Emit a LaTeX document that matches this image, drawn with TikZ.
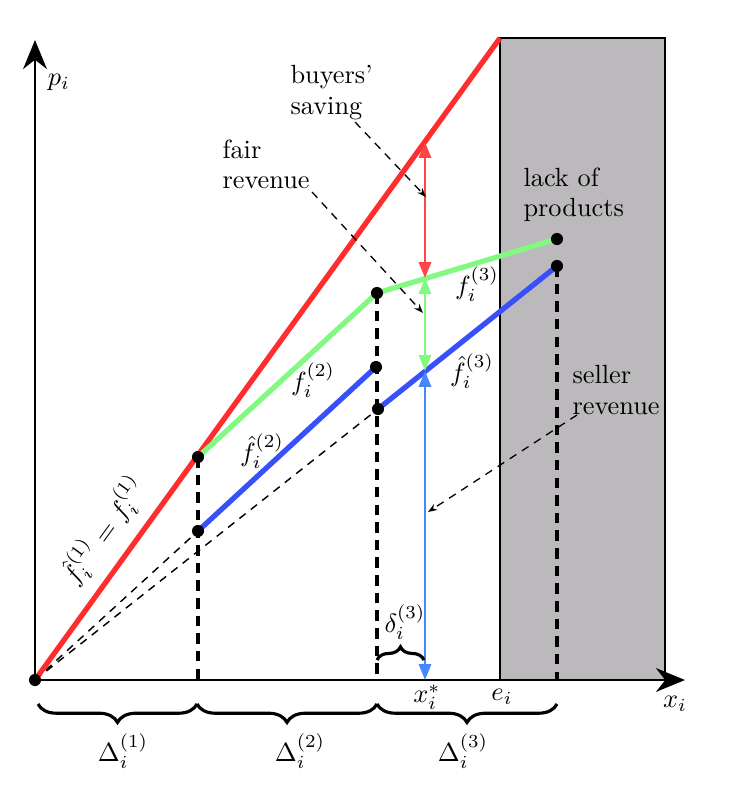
\documentclass[tikz,border=0pt]{standalone}
\usetikzlibrary{arrows.meta,decorations.pathreplacing}
\definecolor{redl}{RGB}{255,45,45}
\definecolor{reda}{RGB}{255,70,70}
\definecolor{greenl}{RGB}{130,250,130}
\definecolor{bluel}{RGB}{55,80,250}
\definecolor{bluea}{RGB}{70,135,255}
\definecolor{shade}{RGB}{187,185,187}
\begin{document}
\begin{tikzpicture}[x=0.38pt,y=-0.38pt,
  axis/.style={line width=1.1pt,-{Stealth[length=11pt,width=9pt,inset=3.5pt]}},
  fline/.style={line width=2pt},
  vdash/.style={line width=1.15pt,dash pattern=on 4pt off 2.7pt},
  tdash/.style={line width=0.55pt,dash pattern=on 3pt off 2.5pt},
  tarrow/.style={line width=0.5pt,dash pattern=on 3pt off 2.5pt,-{Stealth[length=3.5pt,width=2.6pt]}},
  carrow/.style={line width=1pt,{Triangle[length=6pt,width=4.6pt]}-{Triangle[length=6pt,width=4.6pt]}},
  dot/.style={circle,fill=black,inner sep=0pt,minimum size=4.6pt},
  txt/.style={align=left,anchor=north west,inner sep=0pt,font=\fontsize{10}{11.5}\selectfont},
  brc/.style={line width=1.2pt,decorate},
  lbl/.style={inner sep=1pt}]
\useasboundingbox (0,0) rectangle (747,792);
% coordinates
\coordinate (O) at (35,680);
\coordinate (Ytop) at (35,40);
\coordinate (Xend) at (685,680);
\coordinate (Rtop) at (500,38);
\coordinate (A) at (198,457);
\coordinate (Bl) at (198,531);
\coordinate (G2) at (377,293);
\coordinate (Bh) at (376,367);
\coordinate (Bm) at (378,409);
\coordinate (G3) at (557,239);
\coordinate (B3) at (557,266);
\coordinate (A0) at (198,680);
\coordinate (G20) at (377,680);
\coordinate (G30) at (557,680);
\coordinate (PR) at (425,142);
\coordinate (PG) at (425,278);
\coordinate (PB) at (425,371);
\coordinate (PX) at (425,680);
% shaded region
\draw[fill=shade,line width=1pt] (500,38) rectangle (665,680);
% axes
\draw[axis] (O) -- (Ytop);
\draw[axis] (O) -- (Xend);
% dashed lines
\draw[vdash] (A) -- (A0);
\draw[vdash] (G2) -- (G20);
\draw[vdash] (B3) -- (G30);
\draw[tdash] (O) -- (Bl);
\draw[tdash] (O) -- (Bm);
% main lines
\draw[fline,redl] (O) -- (Rtop);
\draw[fline,greenl] (A) -- (G2) -- (G3);
\draw[fline,bluel] (Bl) -- (Bh);
\draw[fline,bluel] (Bm) -- (B3);
% dots
\foreach \p in {O,A,Bl,G2,Bh,Bm,G3,B3} \node[dot] at (\p) {};
% coloured arrows
\draw[carrow,reda] (PR) -- (PG);
\draw[carrow,greenl] (PG) -- (PB);
\draw[carrow,bluea] (PB) -- (PX);
% text labels
\node[txt] (buy) at (290,65) {buyers'\\saving};
\node[txt] (fair) at (222,139) {fair\\revenue};
\node[txt] (lack) at (523,167) {lack of\\products};
\node[txt] (sell) at (572,365) {seller\\revenue};
\coordinate (buyS) at (355,122);
\coordinate (buyE) at (426,197);
\coordinate (fairS) at (312,192);
\coordinate (fairE) at (423,313);
\coordinate (sellS) at (577,415);
\coordinate (sellE) at (428,512);
\draw[tarrow] (buyS) -- (buyE);
\draw[tarrow] (fairS) -- (fairE);
\draw[tarrow] (sellS) -- (sellE);
% math labels
\node[lbl] (lp) at (59,82) {$p_i$};
\node[lbl] (lx) at (675,704) {$x_i$};
\node[lbl] (lxs) at (427,697) {$x_i^*$};
\node[lbl] (le) at (502,697) {$e_i$};
\node[lbl] (lf3) at (477,284) {$f_i^{(3)}$};
\node[lbl] (lfh3) at (472,371) {$\hat{f}_i^{(3)}$};
\node[lbl] (lf2) at (313,380) {$f_i^{(2)}$};
\node[lbl] (lfh2) at (262,451) {$\hat{f}_i^{(2)}$};
\node[lbl,rotate=54] (lf1) at (104,531) {$\hat{f}_i^{(1)} = f_i^{(1)}$};
% braces
\coordinate (d0) at (377,660);
\coordinate (d1) at (424,660);
\draw[brc,decoration={brace,amplitude=5pt}] (d0) -- (d1);
\node[lbl] (ld) at (405,622) {$\delta_i^{(3)}$};
\coordinate (b0) at (38,704);
\coordinate (b1) at (197,704);
\coordinate (b2) at (377,704);
\coordinate (b3) at (557,704);
\draw[brc,decoration={brace,mirror,amplitude=7pt}] (b0) -- (b1);
\draw[brc,decoration={brace,mirror,amplitude=7pt}] (b1) -- (b2);
\draw[brc,decoration={brace,mirror,amplitude=7pt}] (b2) -- (b3);
\node[lbl] (lD1) at (123,751) {$\Delta_i^{(1)}$};
\node[lbl] (lD2) at (300,751) {$\Delta_i^{(2)}$};
\node[lbl] (lD3) at (463,751) {$\Delta_i^{(3)}$};
\end{tikzpicture}
\end{document}
